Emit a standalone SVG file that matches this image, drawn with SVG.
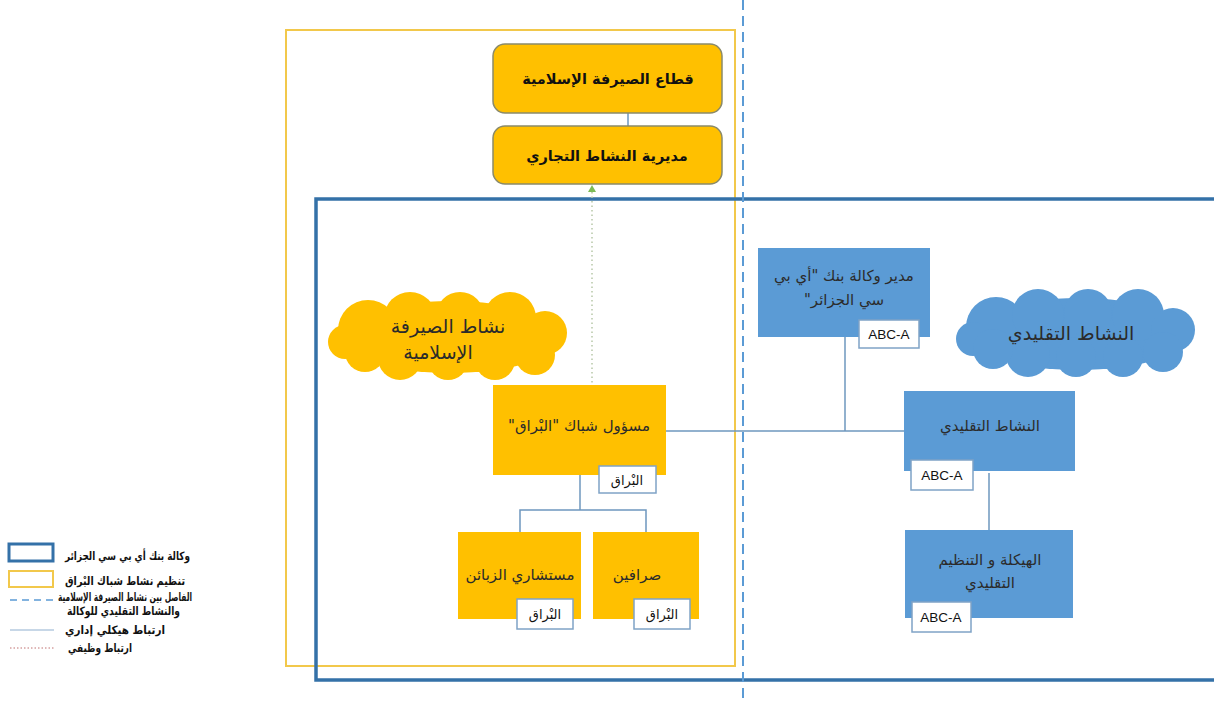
<svg xmlns="http://www.w3.org/2000/svg" width="1214" height="702" viewBox="0 0 1214 702">
<style>
.ar{font-family:"DejaVu Sans",sans-serif;direction:rtl;}
.t{font-size:15px;fill:#2b2b2b;text-anchor:middle;}
.tb{font-size:14.5px;font-weight:bold;fill:#111;text-anchor:middle;}
.ct{font-size:19px;fill:#2b2b2b;text-anchor:middle;}
.tag{fill:#fff;stroke:#7FA3C6;stroke-width:1.5;}
.tagt{font-size:13px;fill:#111;text-anchor:middle;}
.tagl{font-family:"Liberation Sans",sans-serif;font-size:13.5px;fill:#111;text-anchor:middle;}
.yb{fill:#FFC000;}
.bb{fill:#5B9BD5;}
.rb{fill:#FFC000;stroke:#8A8A6A;stroke-width:1.5;}
.con{fill:none;stroke:#6E97BE;stroke-width:1.5;}
.leg{font-family:"DejaVu Sans",sans-serif;direction:rtl;font-size:11.5px;font-weight:bold;fill:#111;text-anchor:start;}
</style>
<defs>
<g id="cloud">
<ellipse cx="450" cy="337" rx="112" ry="36"/>
<circle cx="368" cy="330" r="30"/>
<circle cx="345" cy="342" r="17"/>
<circle cx="410" cy="318" r="26"/>
<circle cx="460" cy="316" r="24"/>
<circle cx="510" cy="318" r="26"/>
<circle cx="545" cy="333" r="22"/>
<circle cx="535" cy="355" r="20"/>
<circle cx="495" cy="360" r="20"/>
<circle cx="448" cy="360" r="20"/>
<circle cx="400" cy="358" r="22"/>
<circle cx="365" cy="352" r="20"/>
</g>
</defs>
<rect width="1214" height="702" fill="#fff"/>

<g id="containers">
<rect x="286" y="30" width="449" height="636" fill="none" stroke="#F2C84B" stroke-width="2"/>
<rect x="316" y="199" width="910" height="481" fill="none" stroke="#3471A8" stroke-width="3.5"/>
<line x1="743" y1="0" x2="743" y2="702" stroke="#5B9BD5" stroke-width="2" stroke-dasharray="10 6"/>
</g>

<g id="connectors">
<line class="con" x1="628" y1="113" x2="628" y2="126"/>
<line x1="592" y1="192" x2="592" y2="385" stroke="#B7C7A8" stroke-width="1.5" stroke-dasharray="1.5 3"/>
<polygon points="592,185 588,192 596,192" fill="#7DBB55"/>
<polyline class="con" points="580,475 580,510"/>
<polyline class="con" points="520,532 520,510 646,510 646,532"/>
<line class="con" x1="666" y1="431" x2="904" y2="431"/>
<line class="con" x1="845" y1="337" x2="845" y2="431"/>
<line class="con" x1="989" y1="473" x2="989" y2="530"/>
</g>

<g id="cloud-islamic">
<use href="#cloud" fill="#FFC000"/>
<text class="ar ct" x="448" y="333">نشاط الصيرفة</text>
<text class="ar ct" x="438" y="359">الإسلامية</text>
</g>

<g id="cloud-conv">
<use href="#cloud" fill="#5B9BD5" transform="translate(628,-3)"/>
<text class="ar ct" x="1071" y="340">النشاط التقليدي</text>
</g>

<g id="n-sector">
<rect class="rb" x="493" y="44" width="229" height="69" rx="12"/>
<text class="ar tb" x="608" y="84">قطاع الصيرفة الإسلامية</text>
</g>

<g id="n-commercial">
<rect class="rb" x="493" y="126" width="229" height="58" rx="12"/>
<text class="ar tb" x="607" y="161">مديرية النشاط التجاري</text>
</g>

<g id="n-burak-head">
<rect class="yb" x="493" y="385" width="173" height="90"/>
<text class="ar t" x="579" y="431">مسؤول شباك "البْراق"</text>
<rect class="tag" x="599" y="466" width="57" height="27"/>
<text class="ar tagt" x="627" y="485">البْراق</text>
</g>

<g id="n-advisors">
<rect class="yb" x="458" y="532" width="123" height="87"/>
<text class="ar t" x="520" y="580">مستشاري الزبائن</text>
<rect class="tag" x="517" y="599" width="56" height="30"/>
<text class="ar tagt" x="545" y="619">البْراق</text>
</g>

<g id="n-tellers">
<rect class="yb" x="593" y="532" width="106" height="87"/>
<text class="ar t" x="637" y="580">صرافين</text>
<rect class="tag" x="634" y="599" width="56" height="30"/>
<text class="ar tagt" x="662" y="619">البْراق</text>
</g>

<g id="n-manager">
<rect class="bb" x="758" y="248" width="172" height="89"/>
<text class="ar t" x="844" y="281">مدير وكالة بنك "أي بي</text>
<text class="ar t" x="844" y="305">سي الجزائر"</text>
<rect class="tag" x="859" y="320" width="60" height="28"/>
<text class="tagl" x="889" y="339">ABC-A</text>
</g>

<g id="n-conv">
<rect class="bb" x="904" y="391" width="171" height="80"/>
<text class="ar t" x="990" y="431">النشاط التقليدي</text>
<rect class="tag" x="911" y="460" width="62" height="30"/>
<text class="tagl" x="942" y="480">ABC-A</text>
</g>

<g id="n-struct">
<rect class="bb" x="905" y="530" width="168" height="88"/>
<text class="ar t" x="990" y="565">الهيكلة و التنظيم</text>
<text class="ar t" x="990" y="588">التقليدي</text>
<rect class="tag" x="912" y="602" width="59" height="30"/>
<text class="tagl" x="941" y="622">ABC-A</text>
</g>

<g id="legend">
<rect x="9" y="544" width="44" height="17" fill="none" stroke="#3471A8" stroke-width="3"/>
<text class="leg" x="190" y="560" textLength="125" lengthAdjust="spacingAndGlyphs">وكالة بنك أي بي سي الجزائر</text>
<rect x="9" y="571" width="44" height="16" fill="none" stroke="#F2C84B" stroke-width="2"/>
<text class="leg" x="185" y="585" textLength="120" lengthAdjust="spacingAndGlyphs">تنظيم نشاط شباك البْراق</text>
<line x1="10" y1="600" x2="54" y2="600" stroke="#5B9BD5" stroke-width="1.5" stroke-dasharray="7 5"/>
<text class="leg" x="192" y="601" textLength="134" lengthAdjust="spacingAndGlyphs">الفاصل بين نشاط الصيرفة الإسلامية</text>
<text class="leg" x="180" y="615" textLength="113" lengthAdjust="spacingAndGlyphs">والنشاط التقليدي للوكالة</text>
<line x1="10" y1="630" x2="54" y2="630" stroke="#8FAFCF" stroke-width="1"/>
<text class="leg" x="165" y="634" textLength="100" lengthAdjust="spacingAndGlyphs">ارتباط هيكلي إداري</text>
<line x1="10" y1="648" x2="54" y2="648" stroke="#C07070" stroke-width="1" stroke-dasharray="1.5 2"/>
<text class="leg" x="132" y="652" textLength="64" lengthAdjust="spacingAndGlyphs">ارتباط وظيفي</text>
</g>
</svg>
